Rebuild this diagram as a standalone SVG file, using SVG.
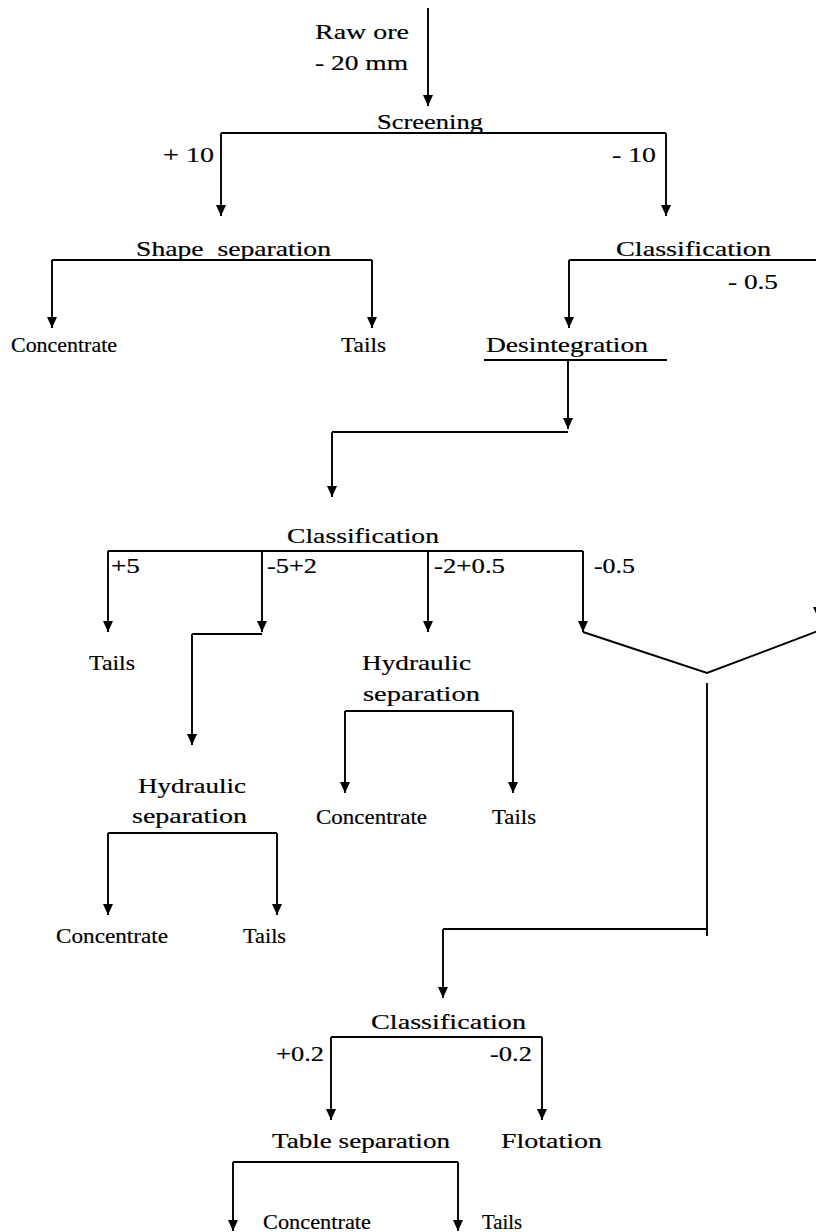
<svg xmlns="http://www.w3.org/2000/svg" width="816" height="1232" viewBox="0 0 816 1232">
<style>
  text { font-family: "Liberation Serif", "Times New Roman", serif; font-size: 22px; fill: #000; stroke: #000; stroke-width: 0.2; }
  .ln { fill: none; stroke: #000; stroke-width: 1.9; }
  .ar { fill: none; stroke: #000; stroke-width: 1.9; marker-end: url(#ah); }
</style>
<defs>
  <marker id="ah" markerUnits="userSpaceOnUse" markerWidth="12" markerHeight="12" viewBox="0 0 12 12" refX="11" refY="6" orient="auto">
    <path d="M0,1 L11,6 L0,11 Z" fill="#000"/>
  </marker>
</defs>
<rect width="816" height="1232" fill="#fff"/>

<g id="connectors">
  <path class="ar" d="M428,8 V106"/>
  <path class="ln" d="M221,133 H666"/>
  <path class="ar" d="M221,133 V216"/>
  <path class="ar" d="M666,133 V216"/>
  <path class="ln" d="M52,260 H372"/>
  <path class="ar" d="M52,260 V328"/>
  <path class="ar" d="M372,260 V328"/>
  <path class="ln" d="M569,260 H816"/>
  <path class="ar" d="M569,260 V328"/>
  <path class="ln" d="M484,360 H667"/>
  <path class="ar" d="M568,360 V429"/>
  <path class="ln" d="M568,432 H332"/>
  <path class="ar" d="M332,432 V497"/>
  <path class="ln" d="M108,551 H583"/>
  <path class="ar" d="M108,551 V632"/>
  <path class="ar" d="M262,551 V632"/>
  <path class="ar" d="M428,551 V632"/>
  <path class="ar" d="M583,551 V632"/>
  <path class="ln" d="M262,634 H192"/>
  <path class="ar" d="M192,634 V745"/>
  <path class="ln" d="M345,711 H513"/>
  <path class="ar" d="M345,711 V793"/>
  <path class="ar" d="M513,711 V793"/>
  <path class="ln" d="M108,833 H277"/>
  <path class="ar" d="M108,833 V915"/>
  <path class="ar" d="M277,833 V915"/>
  <path class="ln" d="M583,632 L707,673 L818,631"/>
  <path class="ar" d="M818,560 V618"/>
  <path class="ln" d="M707,683 V936"/>
  <path class="ln" d="M707,929 H443"/>
  <path class="ar" d="M443,929 V998"/>
  <path class="ln" d="M331,1037 H542"/>
  <path class="ar" d="M331,1037 V1120"/>
  <path class="ar" d="M542,1037 V1120"/>
  <path class="ln" d="M233,1162 H458"/>
  <path class="ar" d="M233,1162 V1231"/>
  <path class="ar" d="M458,1162 V1231"/>
</g>

<g id="raw-ore">
  <text x="315" y="39" textLength="94" lengthAdjust="spacingAndGlyphs">Raw ore</text>
  <text x="315" y="70" textLength="93" lengthAdjust="spacingAndGlyphs">- 20 mm</text>
</g>
<g id="screening">
  <text x="377" y="129" textLength="106" lengthAdjust="spacingAndGlyphs">Screening</text>
</g>
<g id="label-plus10"><text x="163" y="162" textLength="51" lengthAdjust="spacingAndGlyphs">+ 10</text></g>
<g id="label-minus10"><text x="612" y="162" textLength="44" lengthAdjust="spacingAndGlyphs">- 10</text></g>
<g id="shape-separation">
  <text x="136" y="256" textLength="195" lengthAdjust="spacingAndGlyphs" xml:space="preserve">Shape  separation</text>
</g>
<g id="classification-1">
  <text x="616" y="256" textLength="155" lengthAdjust="spacingAndGlyphs">Classification</text>
</g>
<g id="label-minus05a"><text x="728" y="289" textLength="50" lengthAdjust="spacingAndGlyphs">- 0.5</text></g>
<g id="concentrate-1"><text x="11" y="352" textLength="106" lengthAdjust="spacingAndGlyphs">Concentrate</text></g>
<g id="tails-1"><text x="341" y="352" textLength="45" lengthAdjust="spacingAndGlyphs">Tails</text></g>
<g id="desintegration">
  <text x="486" y="352" textLength="162" lengthAdjust="spacingAndGlyphs">Desintegration</text>
</g>
<g id="classification-2">
  <text x="287" y="543" textLength="152" lengthAdjust="spacingAndGlyphs">Classification</text>
</g>
<g id="label-plus5"><text x="111" y="573" textLength="29" lengthAdjust="spacingAndGlyphs">+5</text></g>
<g id="label-m5p2"><text x="267" y="573" textLength="50" lengthAdjust="spacingAndGlyphs">-5+2</text></g>
<g id="label-m2p05"><text x="434" y="573" textLength="71" lengthAdjust="spacingAndGlyphs">-2+0.5</text></g>
<g id="label-m05b"><text x="594" y="573" textLength="41" lengthAdjust="spacingAndGlyphs">-0.5</text></g>
<g id="tails-2"><text x="89" y="670" textLength="46" lengthAdjust="spacingAndGlyphs">Tails</text></g>
<g id="hydraulic-separation-1">
  <text x="362" y="670" textLength="109" lengthAdjust="spacingAndGlyphs">Hydraulic</text>
  <text x="363" y="701" textLength="117" lengthAdjust="spacingAndGlyphs">separation</text>
</g>
<g id="concentrate-2"><text x="316" y="824" textLength="111" lengthAdjust="spacingAndGlyphs">Concentrate</text></g>
<g id="tails-3"><text x="492" y="824" textLength="44" lengthAdjust="spacingAndGlyphs">Tails</text></g>
<g id="hydraulic-separation-2">
  <text x="138" y="793" textLength="108" lengthAdjust="spacingAndGlyphs">Hydraulic</text>
  <text x="132" y="823" textLength="115" lengthAdjust="spacingAndGlyphs">separation</text>
</g>
<g id="concentrate-3"><text x="56" y="943" textLength="112" lengthAdjust="spacingAndGlyphs">Concentrate</text></g>
<g id="tails-4"><text x="243" y="943" textLength="43" lengthAdjust="spacingAndGlyphs">Tails</text></g>
<g id="classification-3">
  <text x="371" y="1029" textLength="155" lengthAdjust="spacingAndGlyphs">Classification</text>
</g>
<g id="label-p02"><text x="276" y="1061" textLength="48" lengthAdjust="spacingAndGlyphs">+0.2</text></g>
<g id="label-m02"><text x="490" y="1061" textLength="42" lengthAdjust="spacingAndGlyphs">-0.2</text></g>
<g id="table-separation">
  <text x="272" y="1148" textLength="178" lengthAdjust="spacingAndGlyphs">Table separation</text>
</g>
<g id="flotation"><text x="501" y="1148" textLength="101" lengthAdjust="spacingAndGlyphs">Flotation</text></g>
<g id="concentrate-4"><text x="263" y="1229" textLength="108" lengthAdjust="spacingAndGlyphs">Concentrate</text></g>
<g id="tails-5"><text x="482" y="1229" textLength="40" lengthAdjust="spacingAndGlyphs">Tails</text></g>
</svg>
